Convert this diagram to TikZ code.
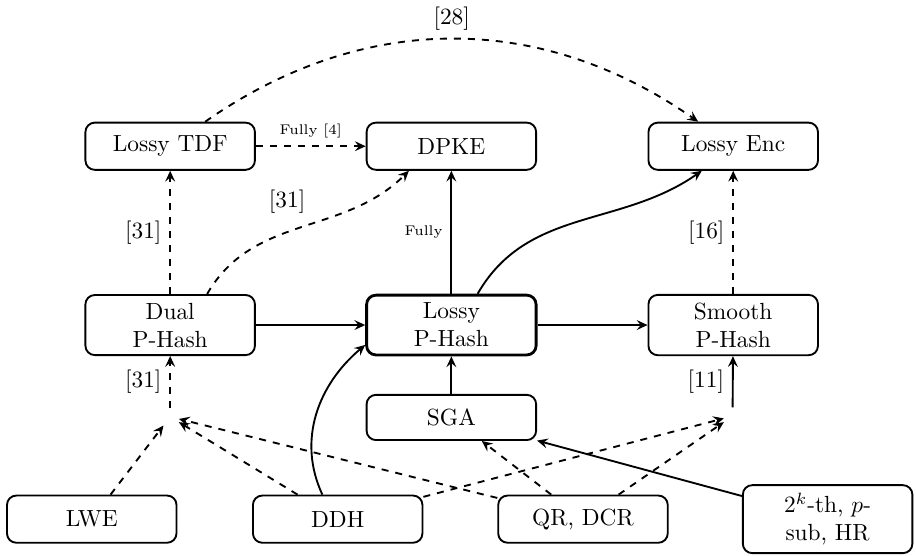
\documentclass[tikz,border=0pt]{standalone}
\usepackage{amsmath,amssymb,latexsym}
\usepackage{tikz}
\usetikzlibrary{arrows.meta}

\tikzset{
  blk/.style={draw,rounded corners=4pt,minimum width=2.55cm,minimum height=0.71cm,align=center},
  tinylbl/.style={font=\fontsize{6}{7}\selectfont}
}

\begin{document}
\begin{tikzpicture}[>={Stealth[length=4.6pt,width=4.2pt,inset=1.7pt]},thick]
\useasboundingbox (0,0) rectangle (13.78,-8.35);
\node[blk] (TDF) at (2.56,-2.2) {Lossy TDF};
\node[blk] (DPKE) at (6.79,-2.2) {DPKE};
\node[blk] (ENC) at (11.03,-2.2) {Lossy Enc};
\node[blk] (DUAL) at (2.56,-4.89) {Dual\\P-Hash};
\node[blk,very thick] (LOSSY) at (6.79,-4.89) {Lossy\\P-Hash};
\node[blk] (SMOOTH) at (11.03,-4.89) {Smooth\\P-Hash};
\node[blk,minimum height=0.68cm] (SGA) at (6.79,-6.28) {SGA};
\node (JL) at (2.56,-6.27) {};
\node (JR) at (11.02,-6.26) {};
\node[blk] (LWE) at (1.38,-7.81) {LWE};
\node[blk] (DDH) at (5.08,-7.81) {DDH};
\node[blk] (QR) at (8.77,-7.81) {QR, DCR};
\node[blk] (HR) at (12.45,-7.81) {$2^k$-th, $p$-\\sub, HR};
% top row
\draw[->,dashed] (TDF) -- node[above,tinylbl]{Fully [4]} (DPKE);
\draw[->,dashed] (TDF.35) to[out=35,in=145] node[above]{[28]} (ENC.145);
% middle row
\draw[->,dashed] (DUAL) -- node[left]{[31]} (TDF);
\draw[->,dashed] (DUAL.40) to[out=60,in=225] node[above left,pos=0.56]{[31]} (DPKE.210);
\draw[->] (LOSSY) -- node[left,tinylbl]{Fully} (DPKE);
\draw[->] (LOSSY.50) to[out=60,in=215] (ENC.218);
\draw[->,dashed] (SMOOTH) -- node[left]{[16]} (ENC);
\draw[->] (DUAL) -- (LOSSY);
\draw[->] (LOSSY) -- (SMOOTH);
\draw[->] (SGA) -- (LOSSY);
% assumptions
\draw[->,dashed] (JL) -- node[left]{[31]} (DUAL);
\draw[->] (JR) -- node[left]{[11]} (SMOOTH);
\draw[->,dashed] (LWE) -- (JL);
\draw[->,dashed] (DDH) -- (JL);
\draw[->,dashed] (QR) -- (JL);
\draw[->,dashed] (DDH) -- (JR);
\draw[->,dashed] (QR) -- (JR);
\draw[->,dashed] (QR) -- (SGA);
\draw[->] (HR) -- (SGA);
\draw[->] (DDH.122) to[out=115,in=220] (LOSSY.193);
\end{tikzpicture}
\end{document}
